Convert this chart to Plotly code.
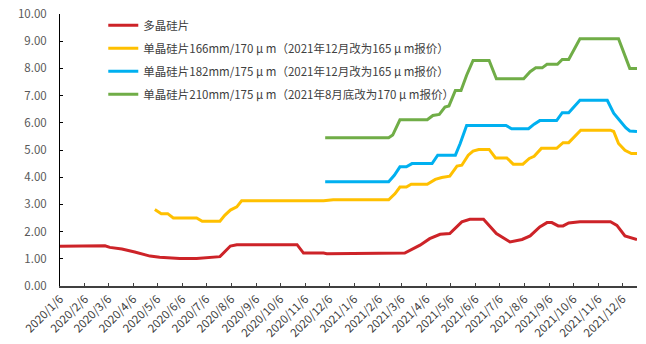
import plotly.graph_objects as go

# ---- data ----
poly_dates = ["2020-01-06", "2020-02-06", "2020-02-12", "2020-03-02", "2020-03-08", "2020-03-23",
              "2020-04-08", "2020-04-27", "2020-05-09", "2020-06-03", "2020-06-24", "2020-07-13",
              "2020-07-23", "2020-08-05", "2020-08-13", "2020-10-27", "2020-11-04", "2020-11-29",
              "2020-12-03", "2021-03-10", "2021-03-29", "2021-04-10", "2021-04-23", "2021-05-05",
              "2021-05-20", "2021-05-30", "2021-06-16", "2021-07-02", "2021-07-19", "2021-08-03",
              "2021-08-13", "2021-08-25", "2021-09-03", "2021-09-09", "2021-09-17", "2021-09-23",
              "2021-09-30", "2021-10-14", "2021-11-21", "2021-11-29", "2021-12-09", "2021-12-24"]
poly_vals = [1.46, 1.46, 1.48, 1.48, 1.42, 1.36,
             1.25, 1.10, 1.06, 1.01, 1.01, 1.06,
             1.08, 1.47, 1.52, 1.52, 1.21, 1.21,
             1.19, 1.21, 1.50, 1.74, 1.90, 1.93,
             2.36, 2.45, 2.45, 1.93, 1.62, 1.71,
             1.84, 2.17, 2.33, 2.33, 2.21, 2.21,
             2.32, 2.36, 2.36, 2.23, 1.84, 1.71]

m166_dates = ["2020-05-03", "2020-05-11", "2020-05-19", "2020-05-26", "2020-06-24", "2020-07-01",
              "2020-07-23", "2020-07-29", "2020-08-05", "2020-08-13", "2020-08-19", "2020-11-29",
              "2020-12-11", "2021-02-18", "2021-02-26", "2021-03-04", "2021-03-12", "2021-03-18",
              "2021-04-07", "2021-04-17", "2021-04-25", "2021-05-05", "2021-05-14", "2021-05-20",
              "2021-05-28", "2021-06-03", "2021-06-10", "2021-06-23", "2021-07-01", "2021-07-15",
              "2021-07-23", "2021-08-04", "2021-08-12", "2021-08-18", "2021-08-27", "2021-09-15",
              "2021-09-23", "2021-09-30", "2021-10-15", "2021-11-21", "2021-11-25", "2021-12-01",
              "2021-12-09", "2021-12-17", "2021-12-24"]
m166_vals = [2.81, 2.66, 2.66, 2.50, 2.50, 2.38,
             2.38, 2.60, 2.79, 2.91, 3.13, 3.13,
             3.17, 3.17, 3.40, 3.64, 3.64, 3.74,
             3.74, 3.92, 3.99, 4.04, 4.41, 4.44,
             4.81, 4.96, 5.02, 5.02, 4.71, 4.71,
             4.48, 4.48, 4.69, 4.77, 5.06, 5.06,
             5.27, 5.27, 5.73, 5.73, 5.68, 5.24,
             4.99, 4.87, 4.87]

m182_dates = ["2020-12-01", "2021-02-18", "2021-02-25", "2021-03-04", "2021-03-12", "2021-03-19",
              "2021-04-13", "2021-04-20", "2021-05-12", "2021-05-18", "2021-05-26", "2021-07-14",
              "2021-07-21", "2021-08-11", "2021-08-18", "2021-08-25", "2021-09-15", "2021-09-22",
              "2021-09-30", "2021-10-14", "2021-11-17", "2021-11-25", "2021-12-02", "2021-12-10",
              "2021-12-15", "2021-12-24"]
m182_vals = [3.83, 3.83, 4.07, 4.38, 4.38, 4.50,
             4.50, 4.81, 4.81, 5.24, 5.90, 5.90,
             5.78, 5.78, 5.95, 6.08, 6.08, 6.37,
             6.37, 6.83, 6.83, 6.35, 6.10, 5.82,
             5.70, 5.68]

m210_dates = ["2020-12-01", "2021-02-18", "2021-02-23", "2021-03-04", "2021-04-07", "2021-04-14",
              "2021-04-22", "2021-04-29", "2021-05-04", "2021-05-12", "2021-05-19", "2021-05-26",
              "2021-06-03", "2021-06-23", "2021-07-02", "2021-08-05", "2021-08-13", "2021-08-20",
              "2021-08-28", "2021-09-03", "2021-09-16", "2021-09-22", "2021-09-30", "2021-10-14",
              "2021-12-01", "2021-12-15", "2021-12-24"]
m210_vals = [5.45, 5.45, 5.55, 6.11, 6.11, 6.27,
             6.31, 6.58, 6.62, 7.19, 7.19, 7.75,
             8.29, 8.29, 7.62, 7.62, 7.88, 8.02,
             8.02, 8.15, 8.15, 8.33, 8.33, 9.09,
             9.09, 8.00, 8.00]

series_names = ["多晶硅片",
                "单晶硅片166mm/170 μ m（2021年12月改为165 μ m报价）",
                "单晶硅片182mm/175 μ m（2021年12月改为165 μ m报价）",
                "单晶硅片210mm/175 μ m（2021年8月底改为170 μ m报价）"]

tick_dates = ["2020-01-06", "2020-02-06", "2020-03-06", "2020-04-06", "2020-05-06", "2020-06-06",
              "2020-07-06", "2020-08-06", "2020-09-06", "2020-10-06", "2020-11-06", "2020-12-06",
              "2021-01-06", "2021-02-06", "2021-03-06", "2021-04-06", "2021-05-06", "2021-06-06",
              "2021-07-06", "2021-08-06", "2021-09-06", "2021-10-06", "2021-11-06", "2021-12-06"]
tick_labels = ["2020/1/6", "2020/2/6", "2020/3/6", "2020/4/6", "2020/5/6", "2020/6/6",
               "2020/7/6", "2020/8/6", "2020/9/6", "2020/10/6", "2020/11/6", "2020/12/6",
               "2021/1/6", "2021/2/6", "2021/3/6", "2021/4/6", "2021/5/6", "2021/6/6",
               "2021/7/6", "2021/8/6", "2021/9/6", "2021/10/6", "2021/11/6", "2021/12/6"]
y_ticks = [0, 1, 2, 3, 4, 5, 6, 7, 8, 9, 10]

colors = ["#CD2328", "#FFC000", "#00B0F0", "#70AD47"]

fig = go.Figure()
for i, (d, v) in enumerate([(poly_dates, poly_vals), (m166_dates, m166_vals),
                            (m182_dates, m182_vals), (m210_dates, m210_vals)]):
    fig.add_trace(go.Scatter(x=d, y=v, mode="lines", name=series_names[i],
                             legendgroup=str(i),
                             line=dict(color=colors[i], width=3)))

font_family = "Noto Sans CJK SC, Liberation Sans, sans-serif"
fig.update_layout(
    width=646, height=344,
    margin=dict(l=60, r=9, t=14, b=58),
    paper_bgcolor="white", plot_bgcolor="white",
    font=dict(family=font_family, color="#595959", size=11),
    showlegend=True,
    legend=dict(x=0.075, y=1.012, xanchor="left", yanchor="top",
                bgcolor="rgba(0,0,0,0)", traceorder="grouped", tracegroupgap=4,
                font=dict(size=11.5, color="#404040", family=font_family)),
    xaxis=dict(type="date", range=["2020-01-06", "2021-12-24"],
               tickmode="array", tickvals=tick_dates, ticktext=tick_labels,
               tickangle=-45, ticks="inside", ticklen=3, tickcolor="#404040",
               showline=True, linecolor="#404040", linewidth=1.5,
               showgrid=False, zeroline=False, automargin=False,
               tickfont=dict(size=11.5, color="#404040")),
    yaxis=dict(range=[0, 10], tickmode="array", tickvals=y_ticks, tickformat=".2f",
               ticks="inside", ticklen=3, tickcolor="#000000",
               showline=True, linecolor="#000000", linewidth=1,
               showgrid=False, zeroline=False, automargin=False,
               ticklabelstandoff=10,
               tickfont=dict(size=11.5, color="#595959")),
)

fig.write_html("out.html")
